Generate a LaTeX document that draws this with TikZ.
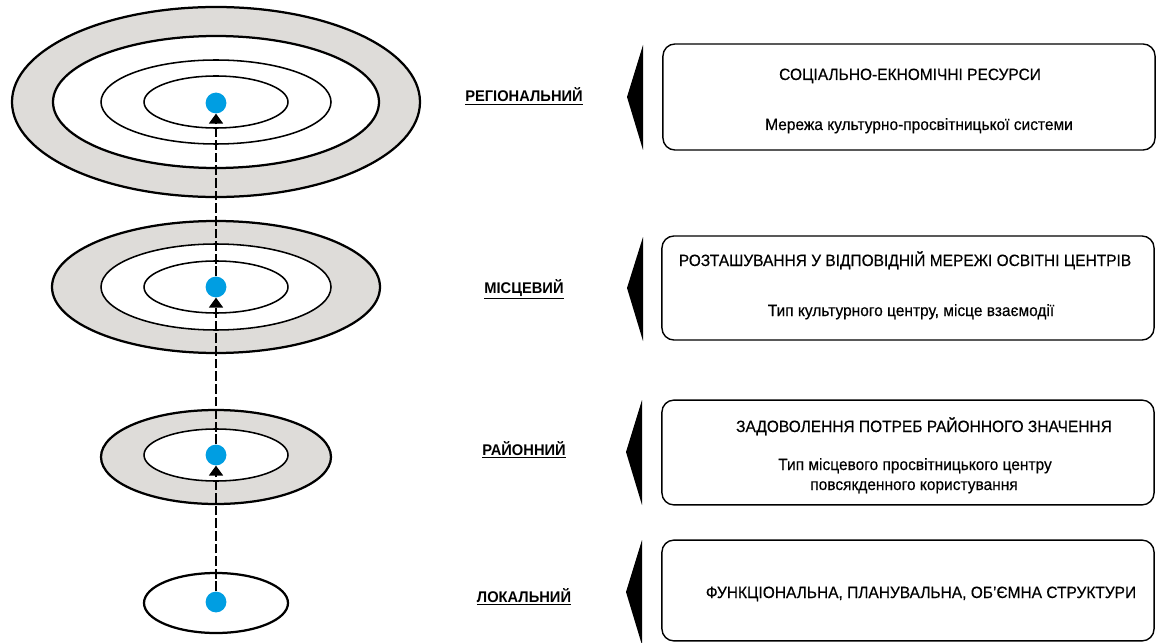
\documentclass[tikz,border=0pt]{standalone}
\usepackage{fontspec}
\setmainfont{Liberation Sans}[FakeStretch=0.95]
\newfontfamily\panelfont{Liberation Sans}[FakeStretch=0.95, FakeBold=0.4]
\usetikzlibrary{arrows.meta}

\definecolor{ringgray}{RGB}{222,220,217}
\definecolor{dotblue}{RGB}{0,158,226}

\begin{document}
\begin{tikzpicture}[x=0.025cm, y=-0.025cm,
    ring/.style={draw=black, line width=1.6pt},
    hoop/.style={draw=black, line width=1.1pt},
    dot/.style={circle, fill=dotblue, inner sep=0pt, minimum size=0.52cm},
    flow/.style={line width=0.9pt, dash pattern=on 7pt off 2pt,
                 -{Triangle[width=10pt,length=7pt]}},
    lvl/.style={font=\fontsize{11}{13}\selectfont\bfseries, anchor=base},
    panel/.style={draw=black, line width=1pt, rounded corners=0.3cm,
                  minimum width=12.3cm},
    txt/.style={font=\fontsize{11.6}{13}\panelfont, anchor=base},
    wedge/.style={fill=black}]
    \useasboundingbox (0,0) rectangle (1157,643);

    % regional
    \draw[ring, fill=ringgray] (216,102) ellipse [x radius=204, y radius=95];
    \draw[ring, fill=white] (216,102) ellipse [x radius=163, y radius=66];
    \draw[hoop] (216,102) ellipse [x radius=115, y radius=42];
    \draw[hoop] (216,102) ellipse [x radius=72, y radius=26];

    % misceviy
    \draw[ring, fill=ringgray] (216,287) ellipse [x radius=164, y radius=66];
    \draw[hoop, fill=white] (216,287) ellipse [x radius=115, y radius=43];
    \draw[hoop] (216,287) ellipse [x radius=72, y radius=26];

    % raion
    \draw[ring, fill=ringgray] (216,457) ellipse [x radius=115, y radius=47];
    \draw[hoop, fill=white] (216,455) ellipse [x radius=72, y radius=26];

    % local
    \draw[ring] (216,603) ellipse [x radius=72, y radius=30];

    \node[dot] (dReg) at (216,103) {};
    \node[dot] (dMis) at (216,287) {};
    \node[dot] (dRai) at (216,455) {};
    \node[dot] (dLoc) at (216,602) {};

    \draw[flow] (dLoc) -- (dRai);
    \draw[flow] (dRai) -- (dMis);
    \draw[flow] (dMis) -- (dReg);

    \node[lvl] (lReg) at (524,102) {\underline{РЕГІОНАЛЬНИЙ}};
    \node[lvl] (lMis) at (524,293) {\underline{МІСЦЕВИЙ}};
    \node[lvl] (lRai) at (524,455) {\underline{РАЙОННИЙ}};
    \node[lvl] (lLoc) at (524,602) {\underline{ЛОКАЛЬНИЙ}};

    \fill[wedge] (643,45) -- (627,97) -- (643,150) -- cycle;
    \fill[wedge] (643,237) -- (627,288) -- (643,341) -- cycle;
    \fill[wedge] (642,400) -- (626,452) -- (642,505) -- cycle;
    \fill[wedge] (642,540) -- (626,592) -- (642,645) -- cycle;

    \node[panel, minimum height=2.65cm] (pReg) at (909,97) {};
    \node[panel, minimum height=2.6cm] (pMis) at (908,288) {};
    \node[panel, minimum height=2.62cm] (pRai) at (908,452.5) {};
    \node[panel, minimum height=2.52cm] (pLoc) at (908,590.5) {};

    \node[txt] (tReg) at (910,80) {СОЦІАЛЬНО-ЕКНОМІЧНІ РЕСУРСИ};
    \node[txt] (sReg) at (919,130) {Мережа культурно-просвітницької системи};
    \node[txt] (tMis) at (905,266) {РОЗТАШУВАННЯ У ВІДПОВІДНІЙ МЕРЕЖІ ОСВІТНІ ЦЕНТРІВ};
    \node[txt] (sMis) at (911,316) {Тип культурного центру, місце взаємодії};
    \node[txt] (tRai) at (924,432) {ЗАДОВОЛЕННЯ ПОТРЕБ РАЙОННОГО ЗНАЧЕННЯ};
    \node[txt] (sRai) at (915,470) {Тип місцевого просвітницького центру};
    \node[txt] (uRai) at (914,490) {повсякденного користування};
    \node[txt] (tLoc) at (921,598) {ФУНКЦІОНАЛЬНА, ПЛАНУВАЛЬНА, ОБ’ЄМНА СТРУКТУРИ};
\end{tikzpicture}
\end{document}
